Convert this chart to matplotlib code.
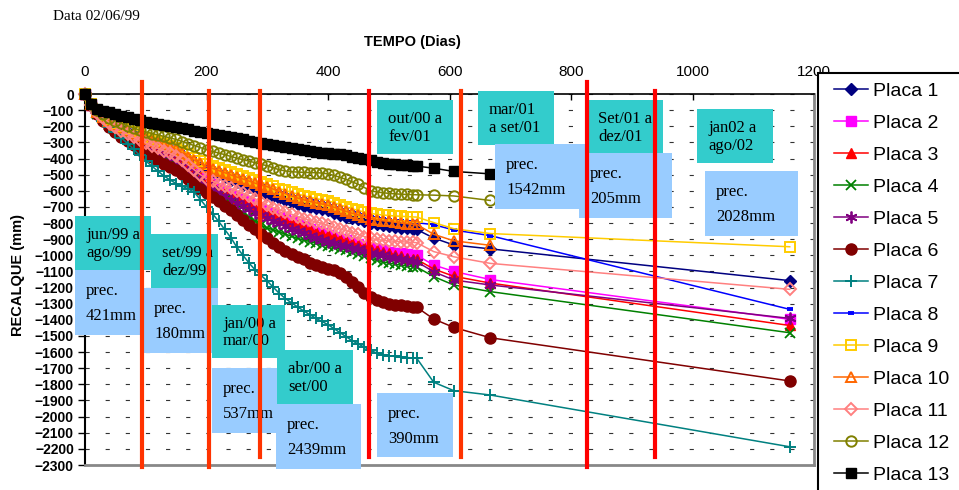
import matplotlib
matplotlib.use('Agg')
import matplotlib.pyplot as plt
from matplotlib.patches import Rectangle

plt.rcParams['lines.scale_dashes'] = False
plt.rcParams['font.family'] = ['Liberation Sans', 'DejaVu Sans']

# ---------------- data ----------------
days = [0, 10, 20, 30, 40, 50, 60, 70, 80, 90, 100, 110, 120, 130, 140, 150, 160, 170, 180, 190,
        200, 210, 220, 230, 240, 250, 260, 270, 280, 290, 300, 310, 320, 330, 340, 350, 360, 370,
        380, 390, 400, 410, 420, 430, 440, 450, 460, 470, 480, 490, 500, 510, 520, 530, 540, 546,
        574, 607, 667, 1160]

placa1 = [0, -66, -112, -143, -169, -194, -215, -234, -253, -271, -290, -304, -318, -331, -344, -357,
          -380, -403, -426, -448, -470, -484, -499, -515, -531, -547, -563, -578, -593, -607, -620,
          -633, -646, -659, -672, -685, -693, -700, -707, -714, -722, -735, -748, -760, -770, -778,
          -788, -797, -805, -811, -816, -822, -828, -833, -838, -840, -893, -936, -960, -1157]
placa2 = [0, -68, -117, -152, -183, -212, -237, -259, -279, -297, -315, -331, -347, -363, -379, -395,
          -423, -453, -483, -512, -540, -561, -582, -602, -622, -641, -660, -678, -697, -715, -730,
          -745, -760, -775, -790, -805, -820, -835, -850, -862, -873, -884, -896, -908, -920, -932,
          -944, -953, -962, -970, -977, -983, -988, -993, -997, -1000, -1060, -1100, -1150, -1397]
placa3 = [0, -68, -118, -153, -185, -214, -239, -262, -282, -301, -320, -336, -352, -368, -384, -400,
          -428, -458, -488, -517, -545, -566, -587, -607, -627, -647, -666, -685, -704, -722, -737,
          -752, -767, -782, -797, -812, -826, -840, -854, -866, -877, -888, -900, -912, -924, -936,
          -948, -958, -968, -978, -988, -998, -1007, -1015, -1021, -1025, -1085, -1130, -1172, -1435]
placa4 = [0, -70, -121, -158, -192, -222, -249, -273, -296, -316, -335, -353, -371, -389, -407, -425,
          -456, -487, -518, -549, -580, -606, -632, -658, -684, -710, -737, -764, -790, -815, -830,
          -843, -856, -869, -882, -895, -905, -915, -925, -935, -943, -951, -960, -969, -979, -990,
          -1003, -1017, -1030, -1040, -1048, -1055, -1061, -1066, -1070, -1073, -1132, -1184, -1225, -1480]
placa5 = [0, -70, -120, -157, -190, -220, -246, -270, -292, -311, -330, -347, -364, -381, -398, -415,
          -445, -475, -505, -535, -565, -588, -611, -634, -656, -678, -697, -716, -735, -752, -768,
          -785, -802, -818, -834, -850, -864, -878, -892, -905, -915, -925, -935, -945, -955, -964,
          -974, -983, -992, -1001, -1010, -1018, -1025, -1031, -1036, -1040, -1102, -1153, -1184, -1391]
placa6 = [0, -70, -122, -165, -202, -235, -265, -292, -318, -345, -370, -392, -413, -433, -452, -470,
          -497, -527, -560, -592, -615, -638, -664, -692, -722, -752, -782, -812, -840, -868, -895,
          -922, -948, -972, -992, -1008, -1025, -1045, -1063, -1075, -1083, -1092, -1108, -1132, -1163,
          -1198, -1235, -1258, -1274, -1290, -1300, -1306, -1311, -1315, -1319, -1322, -1395, -1447,
          -1511, -1779]
placa7 = [0, -85, -135, -170, -203, -237, -272, -307, -343, -380, -415, -447, -478, -508, -533, -555,
          -572, -588, -610, -655, -700, -742, -790, -840, -890, -950, -1000, -1048, -1090, -1125, -1160,
          -1198, -1237, -1268, -1295, -1320, -1345, -1368, -1390, -1410, -1430, -1455, -1480, -1505,
          -1530, -1550, -1570, -1590, -1605, -1615, -1622, -1627, -1631, -1634, -1636, -1638, -1787,
          -1839, -1866, -2187]
placa8 = [0, -64, -108, -138, -163, -187, -207, -225, -243, -260, -276, -289, -302, -314, -326, -339,
          -360, -382, -404, -424, -444, -457, -470, -483, -497, -510, -523, -536, -549, -561, -572,
          -586, -600, -613, -626, -638, -648, -658, -666, -673, -680, -692, -705, -718, -730, -740,
          -751, -761, -769, -775, -780, -785, -789, -793, -796, -798, -810, -843, -878, -1335]
placa9 = [0, -62, -105, -135, -160, -183, -202, -220, -238, -255, -270, -283, -296, -308, -320, -332,
          -352, -373, -395, -415, -435, -447, -460, -473, -486, -498, -510, -522, -535, -547, -558,
          -572, -586, -598, -610, -620, -630, -640, -648, -655, -662, -674, -687, -700, -712, -722,
          -732, -740, -746, -750, -753, -756, -758, -760, -762, -763, -797, -835, -865, -947]
placa10 = [0, -65, -110, -140, -165, -190, -210, -228, -246, -263, -280, -293, -306, -318, -330, -343,
           -365, -388, -410, -430, -450, -462, -475, -488, -502, -515, -527, -540, -553, -565, -575,
           -590, -605, -618, -632, -645, -656, -666, -675, -682, -690, -702, -715, -728, -740, -750,
           -762, -772, -780, -786, -790, -795, -800, -804, -807, -808, -870, -910, -938]
placa11 = [0, -68, -115, -148, -178, -205, -228, -249, -268, -287, -305, -320, -336, -352, -368, -385,
           -410, -440, -470, -500, -525, -540, -555, -570, -585, -600, -615, -632, -650, -670, -690,
           -705, -718, -731, -745, -760, -772, -783, -793, -802, -815, -826, -837, -848, -859, -870,
           -884, -895, -902, -907, -910, -913, -916, -918, -920, -922, -977, -1009, -1050, -1211]
placa12 = [0, -60, -100, -125, -147, -165, -182, -197, -210, -223, -235, -245, -254, -263, -272, -282,
           -295, -308, -320, -332, -345, -356, -366, -376, -387, -398, -407, -416, -426, -436, -445,
           -458, -470, -477, -482, -484, -486, -487, -488, -490, -495, -505, -517, -530, -545, -560,
           -580, -600, -607, -612, -616, -619, -621, -623, -624, -625, -627, -632, -660]
placa13 = [0, -60, -90, -103, -114, -125, -134, -143, -152, -162, -172, -179, -186, -193, -199, -205,
           -212, -220, -228, -236, -243, -249, -255, -261, -268, -275, -282, -290, -298, -306, -312,
           -318, -324, -330, -337, -344, -350, -356, -362, -365, -367, -370, -375, -381, -389, -398,
           -405, -412, -420, -427, -432, -436, -440, -443, -445, -447, -460, -480, -495]

labels = ['Placa 1', 'Placa 2', 'Placa 3', 'Placa 4', 'Placa 5', 'Placa 6', 'Placa 7',
          'Placa 8', 'Placa 9', 'Placa 10', 'Placa 11', 'Placa 12', 'Placa 13']
series = [placa1, placa2, placa3, placa4, placa5, placa6, placa7, placa8, placa9, placa10,
          placa11, placa12, placa13]

# period boundaries (days) and annotation texts
period_days = [94, 204, 288, 467, 619, 826, 938]
period_texts = ['jun/99 a\nago/99', 'set/99 a\ndez/99', 'jan/00 a\nmar/00', 'abr/00 a\nset/00',
                'out/00 a\nfev/01', 'mar/01\na set/01', 'Set/01 a\ndez/01', 'jan02 a\nago/02']
prec_texts = ['prec.\n421mm', 'prec.\n180mm', 'prec.\n537mm', 'prec.\n2439mm',
              'prec.\n390mm', 'prec.\n1542mm', 'prec.\n205mm', 'prec.\n2028mm']

# ---------------- styles / layout ----------------
W, H = 959, 490
styles = [
    dict(color='#000080', marker='D', ms=6.5, mfc='#000080'),
    dict(color='#FF00FF', marker='s', ms=7, mfc='#FF00FF'),
    dict(color='#FF0000', marker='^', ms=7.5, mfc='#FF0000'),
    dict(color='#008000', marker='x', ms=7, mew=1.3),
    dict(color='#800080', marker=(6, 2, 0), ms=8.5, mew=1.3),
    dict(color='#800000', marker='o', ms=8, mfc='#800000'),
    dict(color='#008080', marker='+', ms=9, mew=1.4),
    dict(color='#0000FF', marker='_', ms=5, mew=2.8),
    dict(color='#FFCC00', marker='s', ms=7, mfc='none', mew=1.4),
    dict(color='#FF6600', marker='^', ms=7.5, mfc='none', mew=1.4),
    dict(color='#FF8080', marker='D', ms=6.5, mfc='none', mew=1.4),
    dict(color='#808000', marker='o', ms=7.5, mfc='none', mew=1.4),
    dict(color='#000000', marker='s', ms=7, mfc='#000000'),
]
line_colors = ['#FF3300', '#FF3300', '#FF3300', '#FF0000', '#FF3300', '#FF0000', '#FF0000']
line_px = [(82, 467), (91, 467), (91, 457), (91, 457), (91, 457), (82, 467), (91, 457)]

teal_boxes = [(75, 216, 151, 270), (151, 234, 218, 288), (212, 305, 285, 358), (277, 350, 353, 404),
              (377, 100, 453, 154), (478, 91, 554, 145), (587, 100, 663, 154), (697, 109, 773, 163)]
blue_boxes = [(75, 270, 142, 335), (143, 288, 218, 353), (212, 368, 285, 433), (276, 404, 361, 469),
              (377, 393, 453, 457), (495, 144, 585, 209), (579, 153, 672, 218), (705, 171, 798, 236)]

AX_L, AX_R, AX_T, AX_B = 85, 814, 94, 465


def fx(px):
    return px / W


def fy(py):
    return 1 - py / H


fig = plt.figure(figsize=(W / 100, H / 100), dpi=100)
ax = fig.add_axes([fx(AX_L), fy(AX_B), (AX_R - AX_L) / W, (AX_B - AX_T) / H])

handles = []
for vals, st, lab in zip(series, styles, labels):
    assert len(vals) <= len(days)
    st = dict(st)
    col = st.pop('color')
    h, = ax.plot(days[:len(vals)], vals, color=col, mec=col, lw=1.1, clip_on=False,
                 zorder=3, label=lab, **st)
    handles.append(h)

ax.set_xlim(0, 1200)
ax.set_ylim(-2300, 0)
ax.xaxis.tick_top()
ax.set_xticks(range(0, 1201, 200))
ax.set_yticks(range(-2300, 1, 100))
ax.tick_params(axis='x', direction='in', length=4, pad=11, labelsize=11, width=1)
ax.tick_params(axis='y', direction='out', length=5, pad=3, labelsize=10, width=1)
for t in ax.get_yticklabels():
    t.set_fontweight('bold')

ax.yaxis.grid(True, linestyle=(0, (3, 11.5)), color='#333333', lw=0.8)
ax.set_axisbelow(True)
ax.spines['top'].set_color('black')
ax.spines['top'].set_linewidth(1.2)
ax.spines['left'].set_color('black')
ax.spines['left'].set_linewidth(1.5)
ax.spines['bottom'].set_color('#888888')
ax.spines['bottom'].set_linewidth(2)
ax.spines['right'].set_color('#888888')
ax.spines['right'].set_linewidth(2)


def add_box(box, txt, fc, ls):
    l, t, r, b = box
    ax.add_patch(Rectangle((fx(l), fy(b)), (r - l) / W, (b - t) / H, transform=fig.transFigure,
                           facecolor=fc, edgecolor='none', zorder=5, clip_on=False))
    ax.text(fx(l + 11), fy((t + b) / 2 + 1), txt, transform=fig.transFigure, ha='left',
            va='center', fontsize=12, family='Liberation Serif', linespacing=ls, zorder=6)


for i in range(len(teal_boxes)):
    add_box(teal_boxes[i], period_texts[i], '#33CCCC', 1.15)
    add_box(blue_boxes[i], prec_texts[i], '#99CCFF', 1.75)

# red period lines
h_ax = AX_B - AX_T
for d, c, (tp, bt) in zip(period_days, line_colors, line_px):
    ax.axvline(d, ymin=(AX_B - bt) / h_ax, ymax=(AX_B - tp) / h_ax, color=c, lw=3,
               zorder=7, clip_on=False)

# titles
fig.text(fx(412), fy(42), 'TEMPO (Dias)', ha='center', va='center', fontsize=10.5,
         fontweight='bold')
fig.text(fx(53), fy(17), 'Data 02/06/99', ha='left', va='center', fontsize=11,
         family='Liberation Serif')
fig.text(fx(18), fy(275), 'RECALQUE (mm)', ha='center', va='center', fontsize=10.5,
         fontweight='bold', rotation=90)

# legend
frame = Rectangle((fx(818), fy(520)), (1000 - 818) / W, (520 - 73) / H, transform=fig.transFigure,
                  facecolor='white', edgecolor='black', lw=1.5, zorder=8)
fig.add_artist(frame)
leg = fig.legend(handles, labels, loc='upper left', bbox_to_anchor=(fx(834), fy(82)),
                 frameon=False, fontsize=14, handlelength=1.74, handletextpad=0.26,
                 labelspacing=0.74, borderpad=0, borderaxespad=0)
leg.set_zorder(9)

fig.savefig('out.png', dpi=100)
